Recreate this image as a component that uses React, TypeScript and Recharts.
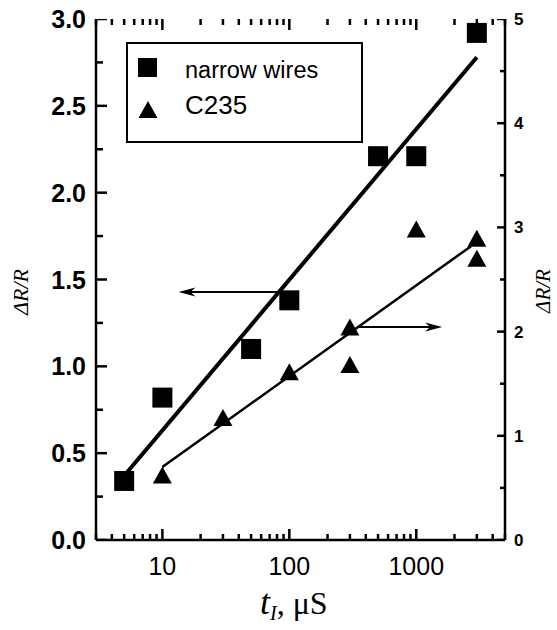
import { ComposedChart, Scatter, Line, XAxis, YAxis, ReferenceLine, Legend } from 'recharts';

// measured points (t in µs, ΔR/R)
const NARROW_T = [5, 10, 50, 100, 500, 1000, 3000];
const NARROW_DR = [0.34, 0.82, 1.1, 1.38, 2.21, 2.21, 2.92];
const C235_T = [10, 30, 100, 300, 300, 1000, 3000, 3000];
const C235_DR = [0.62, 1.17, 1.61, 2.04, 1.68, 2.98, 2.89, 2.7];

// fitted lines (end points)
const FIT_NARROW_T = [5, 3000];
const FIT_NARROW_DR = [0.37, 2.78];
const FIT_C235_T = [10, 2700];
const FIT_C235_DR = [0.7, 2.82];

// arrows pointing to the axis each series belongs to
const ARROW_LEFT_T = [80, 13.4];
const ARROW_LEFT_DR = [1.428, 1.428];
const ARROW_RIGHT_T = [341, 1600];
const ARROW_RIGHT_DR = [2.044, 2.044];

const X_DOMAIN = [3, 5000];
const X_MAJOR = [10, 100, 1000];
const X_MINOR = [3, 4, 5, 6, 7, 8, 9, 20, 30, 40, 50, 60, 70, 80, 90, 200, 300, 400, 500, 600, 700, 800, 900, 2000, 3000, 4000, 5000];
const LEFT_MAJOR = [0, 0.5, 1, 1.5, 2, 2.5, 3];
const LEFT_MINOR = [0.25, 0.75, 1.25, 1.75, 2.25, 2.75];
const RIGHT_MAJOR = [0, 1, 2, 3, 4, 5];
const RIGHT_MINOR = [0.5, 1.5, 2.5, 3.5, 4.5];

const SANS = '"Liberation Sans", Arial, sans-serif';
const SERIF = '"Liberation Serif", "Times New Roman", serif';
const AXIS_LINE = { stroke: '#000', strokeWidth: 2.5 };

const narrow = NARROW_T.map((x, i) => ({ x, y: NARROW_DR[i] }));
const c235 = C235_T.map((x, i) => ({ x, y: C235_DR[i] }));
const fitNarrow = FIT_NARROW_T.map((x, i) => ({ x, y: FIT_NARROW_DR[i] }));
const fitC235 = FIT_C235_T.map((x, i) => ({ x, y: FIT_C235_DR[i] }));

// tick positions on the left / right frame (x at the domain ends)
const atLeft = (vals: number[]) => vals.map((y) => ({ x: X_DOMAIN[0], y }));
const atRight = (vals: number[]) => vals.map((y) => ({ x: X_DOMAIN[1], y }));

const BottomLabel = ({ x, y, payload }: any) => (
  <text x={x} y={y + 35} textAnchor="middle" fontSize={25} fontFamily={SANS} fill="#000">
    {payload.value}
  </text>
);

const LeftLabel = ({ x, y, payload }: any) => (
  <text x={x - 10} y={y + 9} textAnchor="end" fontSize={25} fontWeight="bold" fontFamily={SANS} fill="#000">
    {payload.value.toFixed(1)}
  </text>
);

const RightLabel = ({ x, y, payload }: any) => (
  <text x={x + 9} y={y + 6} textAnchor="start" fontSize={17} fontWeight="bold" fontFamily={SANS} fill="#000">
    {payload.value}
  </text>
);

// inward tick marks on top/bottom frame, drawn from vertical reference lines
const xTick = (len: number) => (p: any) => {
  const top = Math.min(p.y1, p.y2);
  const bot = Math.max(p.y1, p.y2);
  return (
    <g>
      <line x1={p.x1} y1={bot} x2={p.x1} y2={bot - len} stroke="#000" strokeWidth={2.5} />
      <line x1={p.x1} y1={top} x2={p.x1} y2={top + len} stroke="#000" strokeWidth={2.5} />
    </g>
  );
};
// horizontal tick mark drawn from a point on the frame; dir 1 = to the right
const hTick = (len: number, dir: number) => (p: any) => (
  <line x1={p.cx} y1={p.cy} x2={p.cx + dir * len} y2={p.cy} stroke="#000" strokeWidth={2.5} />
);

const Square = (p: any) => <rect x={p.cx - 10} y={p.cy - 10} width={20} height={20} fill="#000" />;
const Triangle = (p: any) => (
  <polygon points={`${p.cx},${p.cy - 9} ${p.cx + 9.5},${p.cy + 8} ${p.cx - 9.5},${p.cy + 8}`} fill="#000" />
);

const Arrow = (p: any) => {
  const { x1, y1, x2, y2 } = p;
  const dir = Math.sign(x2 - x1);
  return (
    <g>
      <line x1={x1} y1={y1} x2={x2 - dir * 10} y2={y2} stroke="#000" strokeWidth={2} />
      <polygon
        points={`${x2},${y2} ${x2 - dir * 17},${y2 - 4.5} ${x2 - dir * 12},${y2} ${x2 - dir * 17},${y2 + 4.5}`}
        fill="#000"
      />
    </g>
  );
};

const LegendBox = () => (
  <div style={{ width: 237, height: 101, border: '2px solid #000', boxSizing: 'border-box', background: '#fff' }}>
    <svg width={233} height={97} style={{ display: 'block' }}>
      <rect x={10} y={14} width={19} height={19} fill="#000" />
      <text x={57} y={34} fontSize={23.5} fontFamily={SANS} fill="#000">narrow wires</text>
      <polygon points="20,57 29.5,74 10.5,74" fill="#000" />
      <text x={57} y={70} fontSize={26} fontFamily={SANS} fill="#000">C235</text>
    </svg>
  </div>
);

const logX = { type: 'number' as const, scale: 'log' as const, domain: X_DOMAIN, allowDataOverflow: true, dataKey: 'x', interval: 0 as const };

export default function App() {
  return (
    <div style={{ position: 'absolute', left: 0, top: 0, background: '#fff' }}>
      <ComposedChart width={557} height={630} margin={{ top: 19, right: 0, bottom: 30, left: 36 }}>
        <XAxis
          xAxisId="bottom"
          {...logX}
          ticks={X_MAJOR}
          height={60}
          tickSize={0}
          tickMargin={0}
          tickLine={false}
          axisLine={AXIS_LINE}
          tick={BottomLabel}
          label={{
            content: () => (
              <text x={260} y={614} fontSize={32} fontFamily={SERIF} fill="#000">
                <tspan fontStyle="italic" fontSize={36}>t</tspan>
                <tspan fontStyle="italic" fontSize={20} dy={6}>I</tspan>
                <tspan dy={-6}>, μS</tspan>
              </text>
            ),
          }}
        />
        <XAxis xAxisId="top" orientation="top" {...logX} ticks={X_MAJOR} height={0} tickLine={false} axisLine={AXIS_LINE} tick={false} />

        <YAxis
          yAxisId="left"
          type="number"
          domain={[0, 3]}
          allowDataOverflow
          ticks={LEFT_MAJOR}
          interval={0}
          width={60}
          tickSize={0}
          tickMargin={0}
          tickLine={false}
          axisLine={AXIS_LINE}
          tick={LeftLabel}
          label={{
            content: () => (
              <text x={28} y={292} transform="rotate(-90 28 292)" textAnchor="middle" fontSize={22} fontStyle="italic" fontFamily={SERIF} fill="#000">
                ΔR/R
              </text>
            ),
          }}
        />
        <YAxis
          yAxisId="right"
          orientation="right"
          type="number"
          domain={[0, 5]}
          allowDataOverflow
          ticks={RIGHT_MAJOR}
          interval={0}
          width={52}
          tickSize={0}
          tickMargin={0}
          tickLine={false}
          axisLine={AXIS_LINE}
          tick={RightLabel}
          label={{
            content: () => (
              <text x={550} y={291} transform="rotate(-90 550 291)" textAnchor="middle" fontSize={21} fontStyle="italic" fontFamily={SERIF} fill="#000">
                ΔR/R
              </text>
            ),
          }}
        />

        <Legend layout="vertical" align="center" verticalAlign="middle" content={LegendBox}
          wrapperStyle={{ left: 126, top: 42, width: 237, height: 101 }} />

        {X_MAJOR.map((v) => (
          <ReferenceLine key={`xM${v}`} xAxisId="bottom" yAxisId="left" x={v} shape={xTick(11)} ifOverflow="visible" />
        ))}
        {X_MINOR.map((v) => (
          <ReferenceLine key={`xm${v}`} xAxisId="bottom" yAxisId="left" x={v} shape={xTick(6)} ifOverflow="visible" />
        ))}

        {/* y tick marks */}
        <Scatter xAxisId="bottom" yAxisId="left" data={atLeft(LEFT_MAJOR)} dataKey="y" shape={hTick(11, 1)} isAnimationActive={false} legendType="none" />
        <Scatter xAxisId="bottom" yAxisId="left" data={atLeft(LEFT_MINOR)} dataKey="y" shape={hTick(7, 1)} isAnimationActive={false} legendType="none" />
        <Scatter xAxisId="bottom" yAxisId="right" data={atRight(RIGHT_MAJOR)} dataKey="y" shape={hTick(8, -1)} isAnimationActive={false} legendType="none" />
        <Scatter xAxisId="bottom" yAxisId="right" data={atRight(RIGHT_MINOR)} dataKey="y" shape={hTick(5, -1)} isAnimationActive={false} legendType="none" />

        <Line xAxisId="bottom" yAxisId="left" data={fitNarrow} dataKey="y" type="linear" stroke="#000" strokeWidth={4} dot={false} isAnimationActive={false} legendType="none" />
        <Line xAxisId="bottom" yAxisId="right" data={fitC235} dataKey="y" type="linear" stroke="#000" strokeWidth={2.5} dot={false} isAnimationActive={false} legendType="none" />

        <ReferenceLine xAxisId="bottom" yAxisId="left" segment={ARROW_LEFT_T.map((x, i) => ({ x, y: ARROW_LEFT_DR[i] }))} shape={Arrow} />
        <ReferenceLine xAxisId="bottom" yAxisId="right" segment={ARROW_RIGHT_T.map((x, i) => ({ x, y: ARROW_RIGHT_DR[i] }))} shape={Arrow} />

        <Scatter name="narrow wires" xAxisId="bottom" yAxisId="left" data={narrow} dataKey="y" shape={Square} isAnimationActive={false} />
        <Scatter name="C235" xAxisId="bottom" yAxisId="right" data={c235} dataKey="y" shape={Triangle} isAnimationActive={false} />
      </ComposedChart>
    </div>
  );
}
